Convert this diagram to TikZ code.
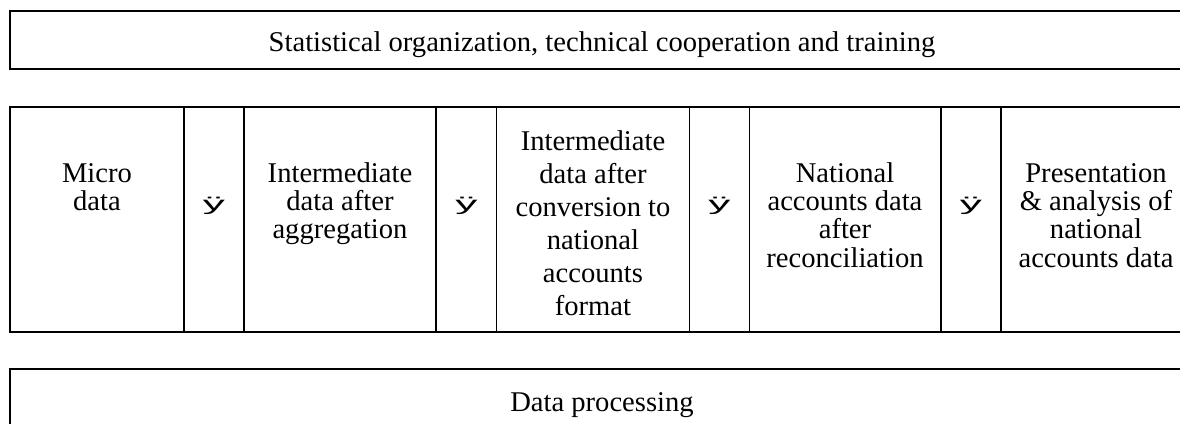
\documentclass[tikz,border=0pt]{standalone}
\usepackage{fontspec}
\setmainfont{Liberation Serif}
\newfontfamily\symfont{Liberation Sans}
% invisible strut that fixes the top of every first text line
\newcommand\firstline{\rule{0pt}{20pt}}
% the step symbol between two stages
\newcommand\stepglyph{\scalebox{1.7}[0.75]{ÿ}}
\begin{document}
\begin{tikzpicture}[x=1pt, y=-1pt, line width=1.3pt,
  bodytext/.style={font=\fontsize{28.6}{28.3}\selectfont},
  widetext/.style={font=\fontsize{28.6}{33}\selectfont},
  band/.style={bodytext, inner sep=0pt, anchor=base},
  cell/.style={bodytext, align=center, inner sep=0pt, anchor=north},
  stepsym/.style={inner sep=0pt, anchor=base,
    font=\symfont\fontsize{26}{28}\selectfont}]
\useasboundingbox (0,0) rectangle (1180,423);
\clip (0,0) rectangle (1180,423);

% top band
\draw (10,11) rectangle (1194,69);
\node[band] (org) at (602,51.7)
  {Statistical organization, technical cooperation and training};

% process chain table
\draw (10,107) rectangle (1192,332);
\foreach \x in {184,244,436,496.7,689.3,749.3,941,1001}
  \draw (\x,107) -- (\x,332);

\node[cell] (micro) at (97,161.7) {\firstline Micro\\data};
\node[cell] (aggr)  at (340,161.7)
  {\firstline Intermediate\\data after\\aggregation};
\node[cell, widetext] (conv) at (593,130)
  {\firstline Intermediate\\data after\\conversion to\\national\\accounts\\format};
\node[cell] (recon) at (845,161.7)
  {\firstline National\\accounts data\\after\\reconciliation};
\node[cell] (pres)  at (1096,161.7)
  {\firstline Presentation\\\& analysis of\\national\\accounts data};

\node[stepsym] (s1) at (214,210)   {\stepglyph};
\node[stepsym] (s2) at (466.5,210) {\stepglyph};
\node[stepsym] (s3) at (719.3,210) {\stepglyph};
\node[stepsym] (s4) at (971,210)   {\stepglyph};

% bottom band
\draw (10,369) rectangle (1194,440);
\node[band] (proc) at (602,411) {Data processing};
\end{tikzpicture}
\end{document}
